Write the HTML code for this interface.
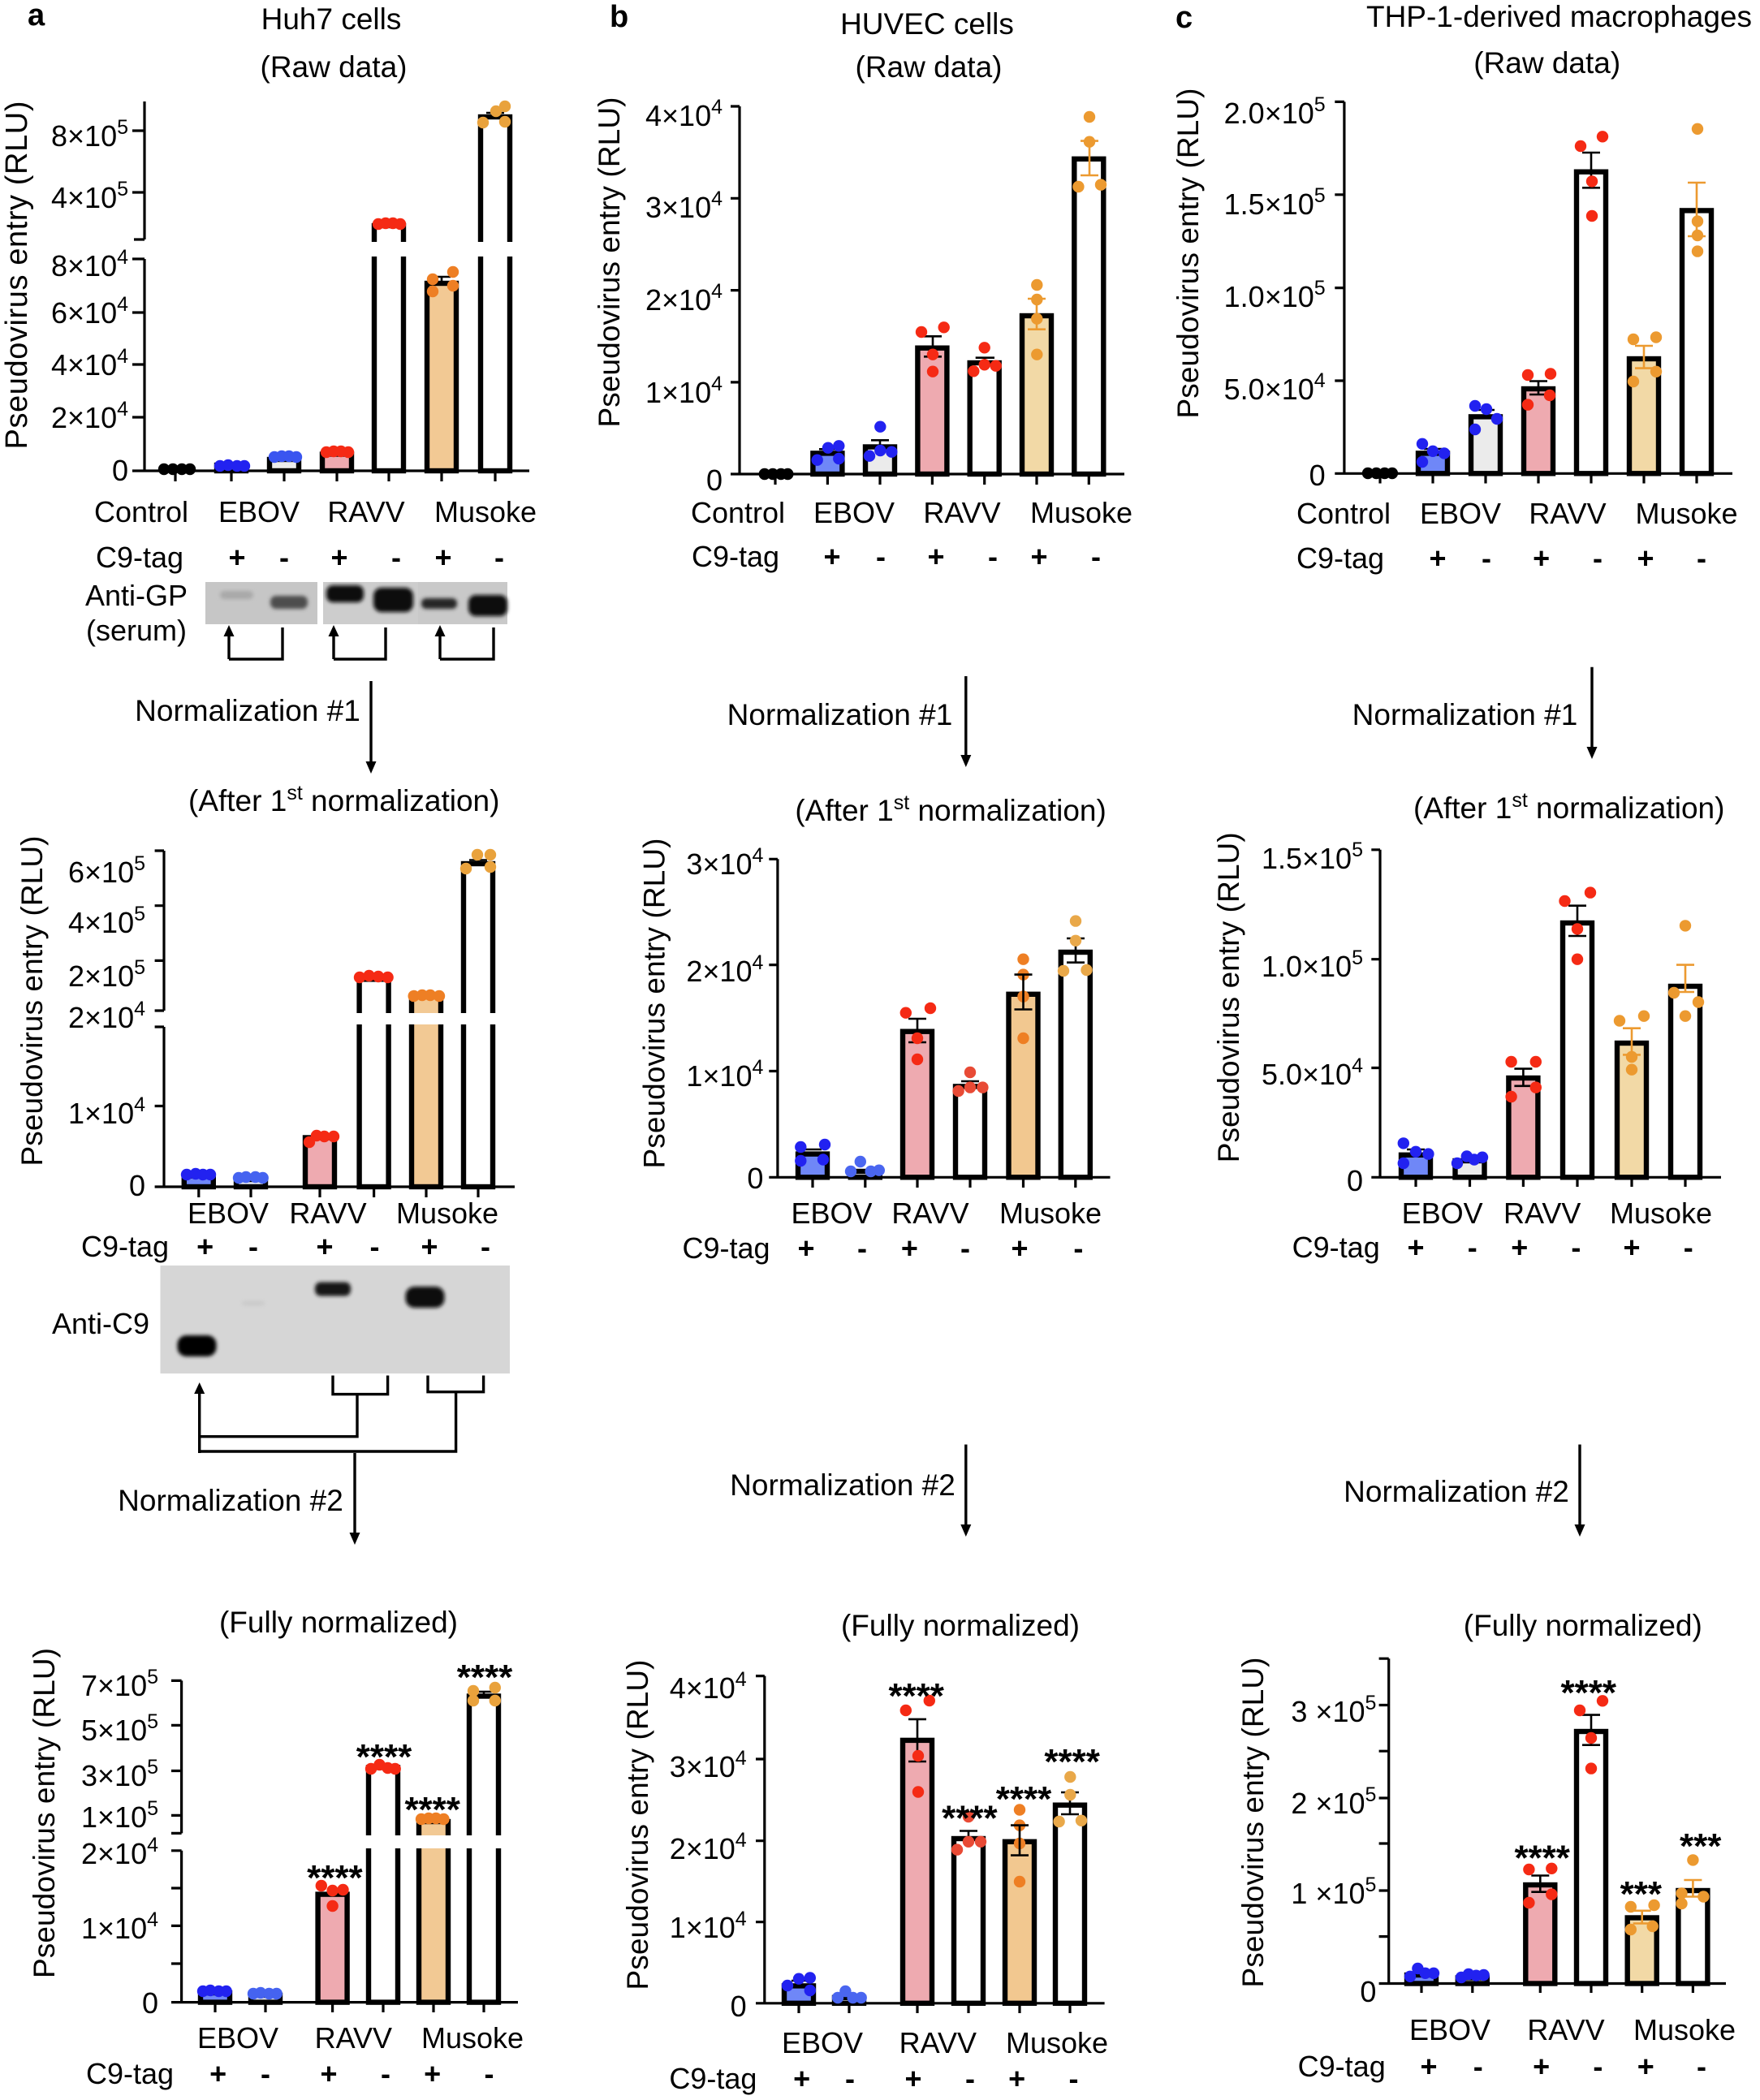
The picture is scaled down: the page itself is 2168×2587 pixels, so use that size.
<!DOCTYPE html>
<html><head><meta charset="utf-8">
<style>
html,body{margin:0;padding:0;background:#fff}
svg{display:block}
text{font-family:"Liberation Sans",Arial,sans-serif;fill:#000}
.l{font-size:36px;text-anchor:middle}
.ti{font-size:37px;text-anchor:middle}
.tk{font-size:36px;text-anchor:end}
.sg{font-size:36px;text-anchor:middle;font-weight:bold}
.st{font-size:44px;text-anchor:middle;font-weight:bold}
.ax{stroke:#000;stroke-width:3.2;fill:none}
.br{stroke:#000;stroke-width:6.4}
.eb{stroke:#000;stroke-width:2.6;fill:none}
.eo{stroke:#ec9a30;stroke-width:2.6;fill:none}
.ln{stroke:#000;stroke-width:3.4;fill:none}
</style></head>
<body>
<svg xmlns="http://www.w3.org/2000/svg" width="2168" height="2587" viewBox="0 0 2168 2587">
<defs><filter id="bl" x="-30%" y="-60%" width="160%" height="220%"><feGaussianBlur stdDeviation="2.5"/></filter></defs>
<rect width="2168" height="2587" fill="#fff"/>

<!-- ================= PANEL A TOP ================= -->
<text x="34" y="31" font-size="38" font-weight="bold">a</text>
<text class="ti" x="408" y="36">Huh7 cells</text>
<text class="ti" x="411" y="95">(Raw data)</text>
<text transform="translate(33,339) rotate(-90)" font-size="38" text-anchor="middle" textLength="429">Pseudovirus entry (RLU)</text>
<g class="br">
<rect x="267" y="573" width="36" height="7" fill="#6f87f7"/>
<rect x="332" y="566" width="36" height="14" fill="#ebebeb"/>
<rect x="397" y="559.5" width="36" height="20.5" fill="#eeaab0"/>
<rect x="461" y="278" width="36" height="302" fill="#fff"/>
<rect x="526" y="349" width="36" height="231" fill="#f2c994"/>
<rect x="592" y="144" width="36" height="436" fill="#fff"/>
</g>
<rect x="168" y="298" width="495" height="18" fill="#fff"/>
<path class="ax" d="M178,125 V295 M178,319 V580 M163,580 H652 M163,161 H178 M163,237 H178 M165,295 H178 M163,319 H178 M163,385 H178 M163,449 H178 M163,514 H178 M216,580 V593 M285,580 V593 M350,580 V593 M415,580 V593 M479,580 V593 M544,580 V593 M610,580 V593"/>
<g fill="#000"><circle cx="202" cy="578" r="7.2"/><circle cx="213" cy="578" r="7.2"/><circle cx="224" cy="578" r="7.2"/><circle cx="234" cy="578" r="7.2"/></g>
<g fill="#2222f0"><circle cx="271" cy="574" r="7.2"/><circle cx="281" cy="573" r="7.2"/><circle cx="292" cy="574" r="7.2"/><circle cx="301" cy="574" r="7.2"/></g>
<g fill="#3a55f0"><circle cx="338" cy="563" r="7.2"/><circle cx="347" cy="562" r="7.2"/><circle cx="356" cy="562" r="7.2"/><circle cx="365" cy="563" r="7.2"/></g>
<g fill="#f52a14"><circle cx="402" cy="557" r="7.2"/><circle cx="411" cy="556" r="7.2"/><circle cx="420" cy="556" r="7.2"/><circle cx="429" cy="557" r="7.2"/>
<circle cx="466" cy="276" r="7.2"/><circle cx="475" cy="275" r="7.2"/><circle cx="484" cy="275" r="7.2"/><circle cx="493" cy="276" r="7.2"/></g>
<path class="eb" d="M533,341 H555 M544,341 V350"/>
<g fill="#ee7f24"><circle cx="558" cy="335" r="7.2"/><circle cx="533" cy="344" r="7.2"/><circle cx="533" cy="359" r="7.2"/><circle cx="558" cy="352" r="7.2"/></g>
<path class="eb" d="M599,139 H621 M610,139 V144"/>
<g fill="#e9a23c"><circle cx="595" cy="151" r="7.2"/><circle cx="611" cy="137" r="7.2"/><circle cx="622" cy="131" r="7.2"/><circle cx="622" cy="150" r="7.2"/></g>
<text class="tk" x="158" y="180">8×10<tspan font-size="25" dy="-15">5</tspan></text>
<text class="tk" x="158" y="256">4×10<tspan font-size="25" dy="-15">5</tspan></text>
<text class="tk" x="158" y="340">8×10<tspan font-size="25" dy="-15">4</tspan></text>
<text class="tk" x="158" y="398">6×10<tspan font-size="25" dy="-15">4</tspan></text>
<text class="tk" x="158" y="462">4×10<tspan font-size="25" dy="-15">4</tspan></text>
<text class="tk" x="158" y="527">2×10<tspan font-size="25" dy="-15">4</tspan></text>
<text class="tk" x="158" y="592">0</text>
<text class="l" x="174" y="643">Control</text>
<text class="l" x="319" y="643">EBOV</text>
<text class="l" x="451" y="643">RAVV</text>
<text class="l" x="598" y="643">Musoke</text>
<text class="l" x="172" y="699">C9-tag</text>
<text class="sg" x="292" y="699">+</text><text class="sg" x="350" y="699">-</text>
<text class="sg" x="418" y="699">+</text><text class="sg" x="488" y="699">-</text>
<text class="sg" x="546" y="699">+</text><text class="sg" x="615" y="699">-</text>
<!-- Anti-GP blot -->
<text class="l" x="168" y="746">Anti-GP</text>
<text class="l" x="168" y="789">(serum)</text>
<rect x="253" y="717" width="138" height="52" fill="#c6c6c6"/>
<rect x="398" y="717" width="117" height="52" fill="#cdcdcd"/>
<rect x="515" y="717" width="110" height="52" fill="#c9c9c9"/>
<g filter="url(#bl)">
<rect x="271" y="728" width="41" height="10" rx="5" fill="#a9a9a9"/>
<rect x="333" y="734" width="46" height="16" rx="7" fill="#4d4d4d"/>
<rect x="402" y="721" width="46" height="21" rx="8" fill="#111"/>
<rect x="460" y="724" width="49" height="30" rx="10" fill="#0a0a0a"/>
<rect x="519" y="737" width="44" height="13" rx="6" fill="#262626"/>
<rect x="577" y="733" width="48" height="26" rx="9" fill="#0a0a0a"/>
</g>
<path class="ln" d="M282,812 V780 M282,812 H348 V773 M411,812 V780 M411,812 H475 V773 M542,812 V780 M542,812 H608 V773"/>
<g fill="#000"><polygon points="282,770 275.5,784 288.5,784"/><polygon points="411,770 404.5,784 417.5,784"/><polygon points="542,770 535.5,784 548.5,784"/></g>

<!-- Normalization #1 (a) -->
<text class="ti" x="305" y="888">Normalization #1</text>
<path class="ln" d="M457,839 V940"/><polygon points="457,953 450.5,938 463.5,938" fill="#000"/>
<text font-size="37" x="232" y="999">(After 1<tspan font-size="25" dy="-14">st</tspan><tspan dy="14"> normalization)</tspan></text>

<!-- ================= PANEL A MIDDLE ================= -->
<text transform="translate(52,1233) rotate(-90)" font-size="37" text-anchor="middle" textLength="407">Pseudovirus entry (RLU)</text>
<g class="br">
<rect x="226.8" y="1448.6" width="36" height="13.4" fill="#6f87f7"/>
<rect x="291" y="1453" width="36" height="9" fill="#e2e6f2"/>
<rect x="376" y="1401.5" width="36" height="60.5" fill="#eeaab0"/>
<rect x="442.6" y="1206.4" width="36" height="255.6" fill="#fff"/>
<rect x="507" y="1227.6" width="36" height="234.4" fill="#f2c994"/>
<rect x="571" y="1064" width="36" height="398" fill="#fff"/>
</g>
<rect x="195" y="1248" width="445" height="14" fill="#fff"/>
<path class="ax" d="M202,1048 V1245 M202,1265 V1462 M190.6,1462 H634 M190.6,1048 H202 M190.6,1115.7 H202 M190.6,1183.4 H202 M190.6,1245 H202 M190.6,1265 H202 M190.6,1362.5 H202 M244.8,1462 V1475 M309,1462 V1475 M394,1462 V1475 M460.6,1462 V1475 M525,1462 V1475 M589,1462 V1475"/>
<g fill="#2222f0"><circle cx="230" cy="1447" r="7.2"/><circle cx="241" cy="1446" r="7.2"/><circle cx="250" cy="1447" r="7.2"/><circle cx="259" cy="1447" r="7.2"/></g>
<g fill="#4563f0"><circle cx="294" cy="1451" r="7.2"/><circle cx="303" cy="1450" r="7.2"/><circle cx="314.6" cy="1450" r="7.2"/><circle cx="323.7" cy="1451" r="7.2"/></g>
<g fill="#f52a14"><circle cx="381" cy="1407" r="7.2"/><circle cx="390" cy="1399" r="7.2"/><circle cx="399.5" cy="1400" r="7.2"/><circle cx="411" cy="1400" r="7.2"/>
<circle cx="443" cy="1204" r="7.2"/><circle cx="454.6" cy="1202" r="7.2"/><circle cx="466" cy="1203" r="7.2"/><circle cx="477.6" cy="1204" r="7.2"/></g>
<g fill="#ee7f24"><circle cx="509.7" cy="1227" r="7.2"/><circle cx="520" cy="1226" r="7.2"/><circle cx="530" cy="1226" r="7.2"/><circle cx="541" cy="1227" r="7.2"/></g>
<path class="eb" d="M578,1059.5 H600 M589,1059.5 V1064"/>
<g fill="#e9a23c"><circle cx="574" cy="1070" r="7.2"/><circle cx="588" cy="1053" r="7.2"/><circle cx="604" cy="1053" r="7.2"/><circle cx="604" cy="1068" r="7.2"/></g>
<text class="tk" x="179" y="1087">6×10<tspan font-size="25" dy="-15">5</tspan></text>
<text class="tk" x="179" y="1149">4×10<tspan font-size="25" dy="-15">5</tspan></text>
<text class="tk" x="179" y="1215">2×10<tspan font-size="25" dy="-15">5</tspan></text>
<text class="tk" x="179" y="1266">2×10<tspan font-size="25" dy="-15">4</tspan></text>
<text class="tk" x="179" y="1384">1×10<tspan font-size="25" dy="-15">4</tspan></text>
<text class="tk" x="179" y="1473">0</text>
<text class="l" x="281" y="1507">EBOV</text>
<text class="l" x="404" y="1507">RAVV</text>
<text class="l" x="551" y="1507">Musoke</text>
<text class="l" x="154" y="1548">C9-tag</text>
<text class="sg" x="252.6" y="1548">+</text><text class="sg" x="312" y="1548">-</text>
<text class="sg" x="400" y="1548">+</text><text class="sg" x="461.5" y="1548">-</text>
<text class="sg" x="529" y="1548">+</text><text class="sg" x="598" y="1548">-</text>
<!-- Anti-C9 blot -->
<rect x="197.5" y="1559" width="430.5" height="133" fill="#d6d6d6"/>
<g filter="url(#bl)">
<rect x="218.5" y="1645" width="48" height="26" rx="11" fill="#050505"/>
<rect x="388" y="1579.5" width="44" height="17" rx="7" fill="#151515"/>
<rect x="499.5" y="1585" width="48" height="26" rx="11" fill="#080808"/>
<rect x="298" y="1603" width="28" height="5" rx="2" fill="#c9c9c9"/>
</g>
<text class="l" x="124" y="1643">Anti-C9</text>
<path class="ln" d="M245.7,1790 V1714 M245.7,1769.7 H440 V1717.6 M410,1694.5 V1717.6 H477.6 V1694.5 M245.7,1788 H561.6 V1714.7 M527,1694.5 V1714.7 H595.6 V1694.5 M437,1790 V1890"/>
<polygon points="245.7,1703 239.2,1717 252.2,1717" fill="#000"/>
<polygon points="437,1903 430.5,1888 443.5,1888" fill="#000"/>
<text class="ti" x="284" y="1861">Normalization #2</text>
<text class="ti" x="417" y="2011">(Fully normalized)</text>

<!-- ================= PANEL A BOTTOM ================= -->
<text transform="translate(67,2233.5) rotate(-90)" font-size="37" text-anchor="middle" textLength="407">Pseudovirus entry (RLU)</text>
<g class="br">
<rect x="247" y="2455" width="36" height="11.6" fill="#6f87f7"/>
<rect x="309" y="2458" width="36" height="8.6" fill="#e2e6f2"/>
<rect x="391.6" y="2333.6" width="36" height="133" fill="#eeaab0"/>
<rect x="454" y="2177.4" width="36" height="289.2" fill="#fff"/>
<rect x="516" y="2244" width="36" height="222.6" fill="#f2c994"/>
<rect x="578" y="2089.5" width="36" height="377.1" fill="#fff"/>
</g>
<rect x="205" y="2261" width="440" height="16" fill="#fff"/>
<path class="ax" d="M223.6,2070.4 V2258.4 M223.6,2279.8 V2466.6 M211,2466.6 H638 M211,2070.4 H223.6 M211,2125.4 H223.6 M211,2181.5 H223.6 M211,2236.4 H223.6 M211,2258.4 H223.6 M211,2279.8 H223.6 M211,2326 H223.6 M211,2372.4 H223.6 M211,2419 H223.6 M265,2466.6 V2479 M327,2466.6 V2479 M409.6,2466.6 V2479 M472,2466.6 V2479 M534,2466.6 V2479 M596,2466.6 V2479"/>
<g fill="#2222f0"><circle cx="250" cy="2453" r="7.2"/><circle cx="259" cy="2452" r="7.2"/><circle cx="269.5" cy="2453" r="7.2"/><circle cx="278.7" cy="2453" r="7.2"/></g>
<g fill="#4563f0"><circle cx="312" cy="2456" r="7.2"/><circle cx="321" cy="2455" r="7.2"/><circle cx="331.5" cy="2456" r="7.2"/><circle cx="340.7" cy="2456" r="7.2"/></g>
<g fill="#f52a14"><circle cx="395.8" cy="2323" r="7.2"/><circle cx="409.6" cy="2329" r="7.2"/><circle cx="422.5" cy="2328" r="7.2"/><circle cx="409.6" cy="2348" r="7.2"/>
<circle cx="457" cy="2179" r="7.2"/><circle cx="467.5" cy="2174" r="7.2"/><circle cx="477.6" cy="2178" r="7.2"/><circle cx="486.7" cy="2179" r="7.2"/></g>
<g fill="#ee7f24"><circle cx="519" cy="2241" r="7.2"/><circle cx="528" cy="2240" r="7.2"/><circle cx="537" cy="2240" r="7.2"/><circle cx="546.5" cy="2241" r="7.2"/></g>
<path class="eb" d="M585,2084 H607 M596,2084 V2090"/>
<g fill="#e9a23c"><circle cx="583" cy="2083" r="7.2"/><circle cx="583" cy="2095" r="7.2"/><circle cx="609.8" cy="2079" r="7.2"/><circle cx="609.8" cy="2095" r="7.2"/></g>
<text class="st" x="412.4" y="2328">****</text>
<text class="st" x="473" y="2179">****</text>
<text class="st" x="532.7" y="2244">****</text>
<text class="st" x="597" y="2081">****</text>
<text class="tk" x="195" y="2089">7×10<tspan font-size="25" dy="-15">5</tspan></text>
<text class="tk" x="195" y="2144">5×10<tspan font-size="25" dy="-15">5</tspan></text>
<text class="tk" x="195" y="2200">3×10<tspan font-size="25" dy="-15">5</tspan></text>
<text class="tk" x="195" y="2251">1×10<tspan font-size="25" dy="-15">5</tspan></text>
<text class="tk" x="195" y="2296">2×10<tspan font-size="25" dy="-15">4</tspan></text>
<text class="tk" x="195" y="2388">1×10<tspan font-size="25" dy="-15">4</tspan></text>
<text class="tk" x="195" y="2480">0</text>
<text class="l" x="293" y="2523">EBOV</text>
<text class="l" x="435.3" y="2523">RAVV</text>
<text class="l" x="582" y="2523">Musoke</text>
<text class="l" x="160" y="2567">C9-tag</text>
<text class="sg" x="268.6" y="2567">+</text><text class="sg" x="327" y="2567">-</text>
<text class="sg" x="405" y="2567">+</text><text class="sg" x="475" y="2567">-</text>
<text class="sg" x="532.7" y="2567">+</text><text class="sg" x="602.5" y="2567">-</text>

<!-- ================= PANEL B TOP ================= -->
<text x="751" y="33" font-size="38" font-weight="bold">b</text>
<text class="ti" x="1142" y="42">HUVEC cells</text>
<text class="ti" x="1144" y="95">(Raw data)</text>
<text transform="translate(763,323) rotate(-90)" font-size="37" text-anchor="middle" textLength="407">Pseudovirus entry (RLU)</text>
<g class="br">
<rect x="1001.4" y="558.4" width="36" height="25.6" fill="#6f87f7"/>
<rect x="1066" y="550.5" width="36" height="33.5" fill="#ebebeb"/>
<rect x="1130.4" y="428.7" width="36" height="155.3" fill="#eeaab0"/>
<rect x="1194.7" y="447" width="36" height="137" fill="#fff"/>
<rect x="1259" y="389" width="36" height="195" fill="#f2d9a6"/>
<rect x="1323.3" y="195.8" width="36" height="388.2" fill="#fff"/>
</g>
<path class="ax" d="M911,131 V584 M900,584 H1385 M900,131 H911 M900,244.3 H911 M900,357.6 H911 M900,470.9 H911 M955,584 V597 M1019.4,584 V597 M1084,584 V597 M1148.4,584 V597 M1212.7,584 V597 M1277,584 V597 M1341.3,584 V597"/>
<g fill="#000"><circle cx="941.8" cy="584" r="7.2"/><circle cx="951.9" cy="584" r="7.2"/><circle cx="962" cy="584" r="7.2"/><circle cx="970.3" cy="584" r="7.2"/></g>
<path class="eb" d="M1009,553.3 H1030 M1073,542.3 H1095 M1084,542.3 V550 M1138,414.3 H1160 M1138,439.3 H1160 M1149,414.3 V439.3 M1201.7,440.7 H1225 M1213,440.7 V447"/>
<g fill="#2222f0"><circle cx="1006.7" cy="566.7" r="7.2"/><circle cx="1020" cy="551.7" r="7.2"/><circle cx="1033.3" cy="549.3" r="7.2"/><circle cx="1033.3" cy="565" r="7.2"/>
<circle cx="1071" cy="561.7" r="7.2"/><circle cx="1084.3" cy="525.7" r="7.2"/><circle cx="1084.3" cy="555" r="7.2"/><circle cx="1098.3" cy="556.7" r="7.2"/></g>
<g fill="#f52a14"><circle cx="1135" cy="409" r="7.2"/><circle cx="1162.7" cy="403.3" r="7.2"/><circle cx="1149" cy="436.7" r="7.2"/><circle cx="1149" cy="457.7" r="7.2"/>
<circle cx="1199.3" cy="457.3" r="7.2"/><circle cx="1212.7" cy="428.3" r="7.2"/><circle cx="1212.7" cy="449.3" r="7.2"/><circle cx="1226.7" cy="450.7" r="7.2"/></g>
<g fill="#ec9a30"><circle cx="1277.3" cy="351" r="7.2"/><circle cx="1277.3" cy="369" r="7.2"/><circle cx="1277.3" cy="392.7" r="7.2"/><circle cx="1277.3" cy="436.7" r="7.2"/>
<circle cx="1342" cy="144" r="7.2"/><circle cx="1342" cy="174.7" r="7.2"/><circle cx="1328.4" cy="230" r="7.2"/><circle cx="1356" cy="227.6" r="7.2"/></g>
<path class="eo" d="M1266,368 H1288 M1266,405.7 H1288 M1277,368 V405.7 M1331,173.6 H1353 M1331,216 H1353 M1342,173.6 V216"/>
<text class="tk" x="890" y="155">4×10<tspan font-size="25" dy="-15">4</tspan></text>
<text class="tk" x="890" y="268">3×10<tspan font-size="25" dy="-15">4</tspan></text>
<text class="tk" x="890" y="382">2×10<tspan font-size="25" dy="-15">4</tspan></text>
<text class="tk" x="890" y="496">1×10<tspan font-size="25" dy="-15">4</tspan></text>
<text class="tk" x="890" y="604">0</text>
<text class="l" x="909" y="644">Control</text>
<text class="l" x="1052" y="644">EBOV</text>
<text class="l" x="1185" y="644">RAVV</text>
<text class="l" x="1332" y="644">Musoke</text>
<text class="l" x="906" y="698">C9-tag</text>
<text class="sg" x="1025" y="698">+</text><text class="sg" x="1085" y="698">-</text>
<text class="sg" x="1153" y="698">+</text><text class="sg" x="1223" y="698">-</text>
<text class="sg" x="1280" y="698">+</text><text class="sg" x="1350" y="698">-</text>

<text class="ti" x="1034.5" y="893">Normalization #1</text>
<path class="ln" d="M1189.8,833 V932"/><polygon points="1189.8,945 1183.3,930 1196.3,930" fill="#000"/>
<text font-size="37" x="979.4" y="1011">(After 1<tspan font-size="25" dy="-14">st</tspan><tspan dy="14"> normalization)</tspan></text>

<!-- ================= PANEL B MIDDLE ================= -->
<text transform="translate(818.7,1236) rotate(-90)" font-size="37" text-anchor="middle" textLength="407">Pseudovirus entry (RLU)</text>
<g class="br">
<rect x="983" y="1421.6" width="36" height="28.7" fill="#6f87f7"/>
<rect x="1047.8" y="1443" width="36" height="7.3" fill="#ebebeb"/>
<rect x="1112" y="1270.7" width="36" height="179.6" fill="#eeaab0"/>
<rect x="1177" y="1338.4" width="36" height="111.9" fill="#fff"/>
<rect x="1242.5" y="1224.8" width="36" height="225.5" fill="#f2c890"/>
<rect x="1306.8" y="1173" width="36" height="277.3" fill="#fff"/>
</g>
<path class="ax" d="M957.9,1058.3 V1450.3 M947.3,1450.3 H1367.5 M947.3,1058.3 H957.9 M947.3,1188.6 H957.9 M947.3,1319.5 H957.9 M1001,1450.3 V1463 M1065.8,1450.3 V1463 M1130,1450.3 V1463 M1195,1450.3 V1463 M1260.5,1450.3 V1463 M1324.8,1450.3 V1463"/>
<path class="eb" d="M990,1416 H1012 M1119,1255 H1141 M1119,1284 H1141 M1130,1255 V1284 M1184,1332 H1206 M1195,1332 V1338 M1314,1156 H1336 M1314,1185.7 H1336 M1325,1156 V1185.7"/>
<g fill="#2222f0"><circle cx="986.3" cy="1413" r="7.2"/><circle cx="1016" cy="1410" r="7.2"/><circle cx="986.3" cy="1430" r="7.2"/><circle cx="1014" cy="1428.5" r="7.2"/></g>
<g fill="#4a66f0"><circle cx="1048" cy="1443" r="7.2"/><circle cx="1059.8" cy="1431" r="7.2"/><circle cx="1072.7" cy="1443" r="7.2"/><circle cx="1082.8" cy="1441.7" r="7.2"/></g>
<g fill="#f52a14"><circle cx="1115.8" cy="1247.7" r="7.2"/><circle cx="1146" cy="1242" r="7.2"/><circle cx="1130" cy="1279" r="7.2"/><circle cx="1130" cy="1305" r="7.2"/></g>
<g fill="#e84a35"><circle cx="1180.6" cy="1344" r="7.2"/><circle cx="1195" cy="1321" r="7.2"/><circle cx="1195" cy="1339.6" r="7.2"/><circle cx="1210.4" cy="1339.6" r="7.2"/></g>
<g fill="#ee7f24"><circle cx="1260.5" cy="1181.7" r="7.2"/><circle cx="1260.5" cy="1200.6" r="7.2"/><circle cx="1260.5" cy="1227.6" r="7.2"/><circle cx="1260.5" cy="1279" r="7.2"/></g>
<g fill="#e9a849"><circle cx="1325" cy="1134.6" r="7.2"/><circle cx="1325" cy="1158.8" r="7.2"/><circle cx="1310" cy="1196" r="7.2"/><circle cx="1338.5" cy="1195" r="7.2"/></g>
<path class="eb" d="M1249.5,1200.6 H1271.5 M1249.5,1243.5 H1271.5 M1260.5,1200.6 V1243.5"/>
<text class="tk" x="940.4" y="1077">3×10<tspan font-size="25" dy="-15">4</tspan></text>
<text class="tk" x="940.4" y="1209">2×10<tspan font-size="25" dy="-15">4</tspan></text>
<text class="tk" x="940.4" y="1338">1×10<tspan font-size="25" dy="-15">4</tspan></text>
<text class="tk" x="940.4" y="1464">0</text>
<text class="l" x="1024.5" y="1507">EBOV</text>
<text class="l" x="1146" y="1507">RAVV</text>
<text class="l" x="1294" y="1507">Musoke</text>
<text class="l" x="894.5" y="1550">C9-tag</text>
<text class="sg" x="993" y="1550">+</text><text class="sg" x="1062" y="1550">-</text>
<text class="sg" x="1120.4" y="1550">+</text><text class="sg" x="1189" y="1550">-</text>
<text class="sg" x="1256" y="1550">+</text><text class="sg" x="1328.4" y="1550">-</text>

<text class="ti" x="1038" y="1842">Normalization #2</text>
<path class="ln" d="M1189.8,1779.5 V1880"/><polygon points="1189.8,1893 1183.3,1878 1196.3,1878" fill="#000"/>
<text class="ti" x="1183" y="2015">(Fully normalized)</text>

<!-- ================= PANEL B BOTTOM ================= -->
<text transform="translate(798,2248) rotate(-90)" font-size="37" text-anchor="middle" textLength="407">Pseudovirus entry (RLU)</text>
<g class="br">
<rect x="966" y="2446.4" width="36" height="21.4" fill="#6f87f7"/>
<rect x="1028" y="2460.8" width="36" height="7" fill="#ebebeb"/>
<rect x="1112" y="2143.9" width="36" height="323.9" fill="#eeaab0"/>
<rect x="1175" y="2265" width="36" height="202.8" fill="#fff"/>
<rect x="1238" y="2268.8" width="36" height="199" fill="#f2c890"/>
<rect x="1300" y="2223.7" width="36" height="244.1" fill="#fff"/>
</g>
<path class="ax" d="M941.8,2064.6 V2467.8 M931,2467.8 H1360.6 M931,2064.6 H941.8 M931,2167 H941.8 M931,2267.7 H941.8 M931,2367.7 H941.8 M984,2467.8 V2480 M1046,2467.8 V2480 M1130,2467.8 V2480 M1193,2467.8 V2480 M1256,2467.8 V2480 M1318,2467.8 V2480"/>
<path class="eb" d="M975,2440 H993 M1119,2117.9 H1141 M1119,2170 H1141 M1130,2117.9 V2170 M1182,2255.5 H1204 M1193,2255.5 V2265 M1307,2208 H1329 M1307,2235 H1329 M1318,2208 V2235"/>
<g fill="#2222f0"><circle cx="970" cy="2446" r="7.2"/><circle cx="984" cy="2437.7" r="7.2"/><circle cx="997.8" cy="2436.5" r="7.2"/><circle cx="997.8" cy="2452" r="7.2"/></g>
<g fill="#4a66f0"><circle cx="1032" cy="2461" r="7.2"/><circle cx="1041.4" cy="2453" r="7.2"/><circle cx="1050.6" cy="2461" r="7.2"/><circle cx="1060.7" cy="2461" r="7.2"/></g>
<g fill="#f52a14"><circle cx="1115.8" cy="2107" r="7.2"/><circle cx="1144.8" cy="2095" r="7.2"/><circle cx="1131" cy="2163" r="7.2"/><circle cx="1131" cy="2207.5" r="7.2"/></g>
<g fill="#e84a35"><circle cx="1179" cy="2278.6" r="7.2"/><circle cx="1193" cy="2268.8" r="7.2"/><circle cx="1193" cy="2238" r="7.2"/><circle cx="1208" cy="2268.8" r="7.2"/></g>
<g fill="#ee7f24"><circle cx="1256" cy="2229.5" r="7.2"/><circle cx="1256" cy="2248.6" r="7.2"/><circle cx="1256" cy="2271" r="7.2"/><circle cx="1256" cy="2318" r="7.2"/></g>
<g fill="#e9a849"><circle cx="1318.3" cy="2189" r="7.2"/><circle cx="1318.3" cy="2211" r="7.2"/><circle cx="1304.6" cy="2244" r="7.2"/><circle cx="1332" cy="2242.8" r="7.2"/></g>
<path class="eb" d="M1245,2248.6 H1267 M1245,2285.6 H1267 M1256,2248.6 V2285.6"/>
<text class="st" x="1128.7" y="2104">****</text>
<text class="st" x="1194.4" y="2254.5">****</text>
<text class="st" x="1261" y="2231">****</text>
<text class="st" x="1320.6" y="2185">****</text>
<text class="tk" x="919.7" y="2092">4×10<tspan font-size="25" dy="-15">4</tspan></text>
<text class="tk" x="919.7" y="2189">3×10<tspan font-size="25" dy="-15">4</tspan></text>
<text class="tk" x="919.7" y="2290">2×10<tspan font-size="25" dy="-15">4</tspan></text>
<text class="tk" x="919.7" y="2387">1×10<tspan font-size="25" dy="-15">4</tspan></text>
<text class="tk" x="919.7" y="2484">0</text>
<text class="l" x="1013" y="2529">EBOV</text>
<text class="l" x="1155.3" y="2529">RAVV</text>
<text class="l" x="1302" y="2529">Musoke</text>
<text class="l" x="878.4" y="2573">C9-tag</text>
<text class="sg" x="987.7" y="2573">+</text><text class="sg" x="1047" y="2573">-</text>
<text class="sg" x="1125" y="2573">+</text><text class="sg" x="1195" y="2573">-</text>
<text class="sg" x="1252.7" y="2573">+</text><text class="sg" x="1322.5" y="2573">-</text>

<!-- ================= PANEL C TOP ================= -->
<text x="1448" y="34" font-size="38" font-weight="bold">c</text>
<text class="ti" x="1920.5" y="33">THP-1-derived macrophages</text>
<text class="ti" x="1905.7" y="90">(Raw data)</text>
<text transform="translate(1476,312) rotate(-90)" font-size="37" text-anchor="middle" textLength="407">Pseudovirus entry (RLU)</text>
<g class="br">
<rect x="1747" y="558.4" width="36" height="24.9" fill="#6f87f7"/>
<rect x="1812" y="513.4" width="36" height="69.9" fill="#ebebeb"/>
<rect x="1877" y="479" width="36" height="104.3" fill="#eeaab0"/>
<rect x="1942" y="211.7" width="36" height="371.6" fill="#fff"/>
<rect x="2007" y="442" width="36" height="141.3" fill="#f2d9a6"/>
<rect x="2072" y="259.4" width="36" height="323.9" fill="#fff"/>
</g>
<path class="ax" d="M1655.9,125.4 V583.3 M1644.3,583.3 H2134 M1644.3,125.4 H1655.9 M1644.3,239.8 H1655.9 M1644.3,354.6 H1655.9 M1644.3,469 H1655.9 M1700,583.3 V595.5 M1765,583.3 V595.5 M1830,583.3 V595.5 M1895,583.3 V595.5 M1960,583.3 V595.5 M2025,583.3 V595.5 M2090,583.3 V595.5"/>
<path class="eb" d="M1754,553 H1776 M1819,505 H1841 M1830,505 V513 M1884,469.5 H1906 M1884,486 H1906 M1895,469.5 V486 M1949,188 H1971 M1949,231.3 H1971 M1960,188 V231.3"/>
<g fill="#000"><circle cx="1685" cy="583" r="7.2"/><circle cx="1695.4" cy="583" r="7.2"/><circle cx="1705.6" cy="583" r="7.2"/><circle cx="1714.9" cy="583" r="7.2"/></g>
<g fill="#2222f0"><circle cx="1752" cy="546.8" r="7.2"/><circle cx="1752" cy="569" r="7.2"/><circle cx="1765" cy="555.8" r="7.2"/><circle cx="1779" cy="558.4" r="7.2"/>
<circle cx="1817" cy="500" r="7.2"/><circle cx="1831" cy="504" r="7.2"/><circle cx="1817" cy="529" r="7.2"/><circle cx="1844" cy="516" r="7.2"/></g>
<g fill="#f52a14"><circle cx="1882" cy="462" r="7.2"/><circle cx="1910" cy="460.5" r="7.2"/><circle cx="1882" cy="498.6" r="7.2"/><circle cx="1909" cy="487" r="7.2"/>
<circle cx="1947" cy="180" r="7.2"/><circle cx="1974" cy="168.3" r="7.2"/><circle cx="1961" cy="223.4" r="7.2"/><circle cx="1961" cy="266" r="7.2"/></g>
<g fill="#ec9a30"><circle cx="2012" cy="418" r="7.2"/><circle cx="2040" cy="415.5" r="7.2"/><circle cx="2012" cy="470" r="7.2"/><circle cx="2040" cy="457.8" r="7.2"/>
<circle cx="2091" cy="158.8" r="7.2"/><circle cx="2091" cy="272.6" r="7.2"/><circle cx="2091" cy="290" r="7.2"/><circle cx="2091" cy="309.6" r="7.2"/></g>
<path class="eo" d="M2014,426 H2036 M2014,453.6 H2036 M2025,426 V453.6 M2079,225 H2101 M2079,291 H2101 M2090,225 V291"/>
<text class="tk" x="1632.7" y="152">2.0×10<tspan font-size="25" dy="-15">5</tspan></text>
<text class="tk" x="1632.7" y="264">1.5×10<tspan font-size="25" dy="-15">5</tspan></text>
<text class="tk" x="1632.7" y="378">1.0×10<tspan font-size="25" dy="-15">5</tspan></text>
<text class="tk" x="1632.7" y="492">5.0×10<tspan font-size="25" dy="-15">4</tspan></text>
<text class="tk" x="1632.7" y="598">0</text>
<text class="l" x="1655" y="645">Control</text>
<text class="l" x="1799" y="645">EBOV</text>
<text class="l" x="1931" y="645">RAVV</text>
<text class="l" x="2077.5" y="645">Musoke</text>
<text class="l" x="1651" y="700">C9-tag</text>
<text class="sg" x="1771" y="700">+</text><text class="sg" x="1831" y="700">-</text>
<text class="sg" x="1898.7" y="700">+</text><text class="sg" x="1968" y="700">-</text>
<text class="sg" x="2027" y="700">+</text><text class="sg" x="2096" y="700">-</text>

<text class="ti" x="1804.5" y="893">Normalization #1</text>
<path class="ln" d="M1961,821.8 V922"/><polygon points="1961,935 1954.5,920 1967.5,920" fill="#000"/>
<text font-size="37" x="1741" y="1008">(After 1<tspan font-size="25" dy="-14">st</tspan><tspan dy="14"> normalization)</tspan></text>

<!-- ================= PANEL C MIDDLE ================= -->
<text transform="translate(1526,1228.8) rotate(-90)" font-size="37" text-anchor="middle" textLength="407">Pseudovirus entry (RLU)</text>
<g class="br">
<rect x="1726" y="1422.8" width="36" height="27.5" fill="#6f87f7"/>
<rect x="1792.5" y="1430" width="36" height="20.3" fill="#ebebeb"/>
<rect x="1858.4" y="1328" width="36" height="122.3" fill="#eeaab0"/>
<rect x="1925" y="1137" width="36" height="313.3" fill="#fff"/>
<rect x="1992" y="1285" width="36" height="165.3" fill="#f2d9a6"/>
<rect x="2058" y="1215" width="36" height="235.3" fill="#fff"/>
</g>
<path class="ax" d="M1700,1046.8 V1450.3 M1689.3,1450.3 H2120 M1689.3,1046.8 H1700 M1689.3,1181.7 H1700 M1689.3,1315.5 H1700 M1744,1450.3 V1462 M1810.5,1450.3 V1462 M1876.4,1450.3 V1462 M1943,1450.3 V1462 M2010,1450.3 V1462 M2076,1450.3 V1462"/>
<path class="eb" d="M1733,1416 H1755 M1865.4,1316.6 H1887.4 M1865.4,1337.8 H1887.4 M1876.4,1316.6 V1337.8 M1932,1115.7 H1954 M1932,1153 H1954 M1943,1115.7 V1153"/>
<g fill="#2222f0"><circle cx="1728.8" cy="1408.4" r="7.2"/><circle cx="1728.8" cy="1433" r="7.2"/><circle cx="1744" cy="1418.8" r="7.2"/><circle cx="1759.4" cy="1421.6" r="7.2"/>
<circle cx="1795" cy="1433" r="7.2"/><circle cx="1806.8" cy="1424.5" r="7.2"/><circle cx="1816" cy="1428.5" r="7.2"/><circle cx="1826" cy="1425.7" r="7.2"/></g>
<g fill="#f52a14"><circle cx="1861.6" cy="1308" r="7.2"/><circle cx="1891.8" cy="1308" r="7.2"/><circle cx="1861.6" cy="1351" r="7.2"/><circle cx="1891.8" cy="1339.6" r="7.2"/>
<circle cx="1927.5" cy="1110" r="7.2"/><circle cx="1959" cy="1099.6" r="7.2"/><circle cx="1943" cy="1144.4" r="7.2"/><circle cx="1943" cy="1181.7" r="7.2"/></g>
<g fill="#ec9a30"><circle cx="1995" cy="1257.5" r="7.2"/><circle cx="2025" cy="1251.7" r="7.2"/><circle cx="2010" cy="1302" r="7.2"/><circle cx="2010" cy="1317.7" r="7.2"/>
<circle cx="2076" cy="1140.4" r="7.2"/><circle cx="2062" cy="1223" r="7.2"/><circle cx="2092" cy="1234.5" r="7.2"/><circle cx="2076" cy="1251.7" r="7.2"/></g>
<path class="eo" d="M1999,1266.7 H2021 M1999,1299.4 H2021 M2010,1266.7 V1299.4 M2065,1188.6 H2087 M2065,1222 H2087 M2076,1188.6 V1222"/>
<text class="tk" x="1679" y="1070">1.5×10<tspan font-size="25" dy="-15">5</tspan></text>
<text class="tk" x="1679" y="1203">1.0×10<tspan font-size="25" dy="-15">5</tspan></text>
<text class="tk" x="1679" y="1336">5.0×10<tspan font-size="25" dy="-15">4</tspan></text>
<text class="tk" x="1679" y="1467">0</text>
<text class="l" x="1776.6" y="1507">EBOV</text>
<text class="l" x="1899.7" y="1507">RAVV</text>
<text class="l" x="2046" y="1507">Musoke</text>
<text class="l" x="1645.7" y="1549">C9-tag</text>
<text class="sg" x="1744" y="1549">+</text><text class="sg" x="1813.8" y="1549">-</text>
<text class="sg" x="1871.8" y="1549">+</text><text class="sg" x="1941.4" y="1549">-</text>
<text class="sg" x="2010" y="1549">+</text><text class="sg" x="2079.8" y="1549">-</text>

<text class="ti" x="1794" y="1850">Normalization #2</text>
<path class="ln" d="M1946,1779.5 V1880"/><polygon points="1946,1893 1939.5,1878 1952.5,1878" fill="#000"/>
<text class="ti" x="1949.8" y="2015">(Fully normalized)</text>

<!-- ================= PANEL C BOTTOM ================= -->
<text transform="translate(1556,2245) rotate(-90)" font-size="37" text-anchor="middle" textLength="407">Pseudovirus entry (RLU)</text>
<g class="br">
<rect x="1733" y="2433" width="36" height="10.5" fill="#6f87f7"/>
<rect x="1795.8" y="2436.5" width="36" height="7" fill="#ebebeb"/>
<rect x="1879.3" y="2322" width="36" height="121.5" fill="#eeaab0"/>
<rect x="1942" y="2133" width="36" height="310.5" fill="#fff"/>
<rect x="2004.7" y="2362.5" width="36" height="81" fill="#f2d9a6"/>
<rect x="2067.4" y="2329" width="36" height="114.5" fill="#fff"/>
</g>
<path class="ax" d="M1710.7,2043.2 V2443.5 M1698.6,2443.5 H2126 M1698.6,2043.2 H1710.7 M1698.6,2100.5 H1710.7 M1698.6,2157.2 H1710.7 M1698.6,2215 H1710.7 M1698.6,2271 H1710.7 M1698.6,2329 H1710.7 M1698.6,2385.6 H1710.7 M1751,2443.5 V2455 M1813.8,2443.5 V2455 M1897.3,2443.5 V2455 M1960,2443.5 V2455 M2022.7,2443.5 V2455 M2085.4,2443.5 V2455"/>
<path class="eb" d="M1886.3,2310.5 H1908.3 M1886.3,2330.7 H1908.3 M1897.3,2310.5 V2330.7 M1949,2112.6 H1971 M1949,2149.7 H1971 M1960,2112.6 V2149.7"/>
<g fill="#2222f0"><circle cx="1737" cy="2434.8" r="7.2"/><circle cx="1746.4" cy="2425" r="7.2"/><circle cx="1755.7" cy="2430.8" r="7.2"/><circle cx="1766" cy="2430.8" r="7.2"/>
<circle cx="1800" cy="2436" r="7.2"/><circle cx="1809" cy="2432" r="7.2"/><circle cx="1818.4" cy="2433.7" r="7.2"/><circle cx="1827.7" cy="2433" r="7.2"/></g>
<g fill="#f52a14"><circle cx="1883.4" cy="2303" r="7.2"/><circle cx="1911.3" cy="2301.8" r="7.2"/><circle cx="1883.4" cy="2344" r="7.2"/><circle cx="1911.3" cy="2333.6" r="7.2"/>
<circle cx="1946" cy="2107" r="7.2"/><circle cx="1974" cy="2095.3" r="7.2"/><circle cx="1960" cy="2141" r="7.2"/><circle cx="1960" cy="2178.6" r="7.2"/></g>
<g fill="#ec9a30"><circle cx="2008.8" cy="2349" r="7.2"/><circle cx="2037.6" cy="2347" r="7.2"/><circle cx="2008.8" cy="2377" r="7.2"/><circle cx="2035.7" cy="2373" r="7.2"/>
<circle cx="2085.4" cy="2291.4" r="7.2"/><circle cx="2071.5" cy="2332.4" r="7.2"/><circle cx="2098.4" cy="2336.5" r="7.2"/><circle cx="2071.5" cy="2345" r="7.2"/></g>
<path class="eo" d="M2011.7,2353.8 H2033.7 M2011.7,2369.5 H2033.7 M2022.7,2353.8 V2369.5 M2074.4,2316 H2096.4 M2074.4,2336.5 H2096.4 M2085.4,2316 V2336.5"/>
<text class="st" x="1899.7" y="2303.6">****</text>
<text class="st" x="1956.8" y="2100">****</text>
<text class="st" x="2021.3" y="2348">***</text>
<text class="st" x="2094.7" y="2289">***</text>
<text class="tk" x="1695.4" y="2121">3 ×10<tspan font-size="25" dy="-15">5</tspan></text>
<text class="tk" x="1695.4" y="2234">2 ×10<tspan font-size="25" dy="-15">5</tspan></text>
<text class="tk" x="1695.4" y="2345">1 ×10<tspan font-size="25" dy="-15">5</tspan></text>
<text class="tk" x="1695.4" y="2466">0</text>
<text class="l" x="1786" y="2513">EBOV</text>
<text class="l" x="1929" y="2513">RAVV</text>
<text class="l" x="2075" y="2513">Musoke</text>
<text class="l" x="1652.7" y="2558">C9-tag</text>
<text class="sg" x="1760" y="2558">+</text><text class="sg" x="1820.7" y="2558">-</text>
<text class="sg" x="1898.7" y="2558">+</text><text class="sg" x="1968.4" y="2558">-</text>
<text class="sg" x="2027.3" y="2558">+</text><text class="sg" x="2096" y="2558">-</text>
</svg>
</body></html>
